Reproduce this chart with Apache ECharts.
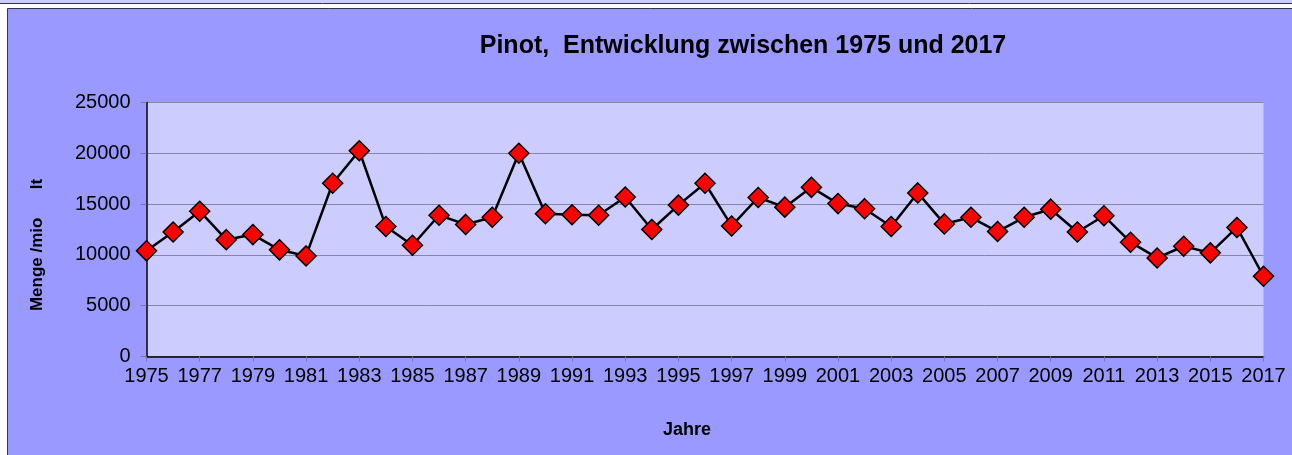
<!DOCTYPE html>
<html>
<head>
<meta charset="utf-8">
<title>Pinot</title>
<script src="https://cdn.jsdelivr.net/npm/echarts@6/dist/echarts.min.js"></script>
<style>
  html, body { margin: 0; padding: 0; background: #fff; }
  #chart { width: 1292px; height: 455px; }
</style>
</head>
<body>
<div id="chart"></div>
<script>
// Jahre (Kategorien)
const years = []
for (let y = 1975; y <= 2017; y++) years.push(String(y))

// Menge /mio lt
const menge = [
  10400, 12250, 14300, 11500, 12000, 10500, 9900, 17050, 20250, 12800,
  10950, 13900, 13000, 13700, 20000, 14050, 13950, 13900, 15700, 12500,
  14900, 17050, 12850, 15650, 14700, 16650, 15050, 14550, 12800, 16100,
  13050, 13700, 12300, 13700, 14500, 12250, 13850, 11250, 9700, 10850,
  10200, 12700, 7900
]

// y-Achse
const yMin = 0
const yMax = 25000
const yStep = 5000

const FONT = '"Liberation Sans", Arial, sans-serif'

const chart = echarts.init(document.getElementById('chart'))

chart.setOption({
  backgroundColor: '#ffffff',
  animation: false,
  title: {
    text: 'Pinot,  Entwicklung zwischen 1975 und 2017',
    left: 738,
    top: 29,
    textAlign: 'center',
    textStyle: { fontFamily: FONT, fontSize: 25, fontWeight: 'bold', color: '#000' }
  },
  graphic: [
    // oberer Streifen
    {
      type: 'rect', z: -20,
      shape: { x: -2, y: -2, width: 1300, height: 5.5 },
      style: { fill: '#ccccff', stroke: '#333355', lineWidth: 1 }
    },
    // Diagrammfläche
    {
      type: 'rect', z: -20,
      shape: { x: 7.5, y: 8.5, width: 1300, height: 460 },
      style: { fill: '#9999ff', stroke: '#333355', lineWidth: 1 }
    },
    {
      type: 'text', z: 10,
      x: 37, y: 245, rotation: Math.PI / 2,
      style: {
        text: 'Menge /mio      lt',
        fontFamily: FONT, fontSize: 17, fontWeight: 'bold', fill: '#000',
        align: 'center', verticalAlign: 'middle'
      }
    },
    {
      type: 'text', z: 10,
      x: 687, y: 430,
      style: {
        text: 'Jahre',
        fontFamily: FONT, fontSize: 18, fontWeight: 'bold', fill: '#000',
        align: 'center', verticalAlign: 'middle'
      }
    }
  ],
  grid: {
    left: 146.5,
    right: 28.5,
    top: 102.5,
    bottom: 98.5,
    show: true,
    backgroundColor: '#ccccff',
    borderWidth: 0
  },
  xAxis: {
    type: 'category',
    data: years,
    boundaryGap: false,
    axisLine: { lineStyle: { color: '#000', width: 1.5 } },
    axisTick: { interval: 1, length: 5, lineStyle: { color: '#7777aa' } },
    axisLabel: { interval: 1, margin: 10, fontFamily: FONT, fontSize: 20, color: '#000' },
    splitLine: { show: false }
  },
  yAxis: {
    type: 'value',
    min: yMin,
    max: yMax,
    interval: yStep,
    axisLine: { show: true, lineStyle: { color: '#000', width: 1.5 } },
    axisTick: { show: true, length: 6, lineStyle: { color: '#7777aa' } },
    axisLabel: {
      margin: 16, fontFamily: FONT, fontSize: 20, color: '#000',
      formatter: (v) => String(v)
    },
    splitLine: { lineStyle: { color: '#8585a8', width: 1 } }
  },
  series: [
    {
      type: 'line',
      data: menge,
      symbol: 'diamond',
      symbolSize: 20,
      showAllSymbol: true,
      itemStyle: { color: '#ff0000', borderColor: '#000', borderWidth: 1.5 },
      lineStyle: { color: '#000', width: 2.5 }
    }
  ]
})
</script>
</body>
</html>
